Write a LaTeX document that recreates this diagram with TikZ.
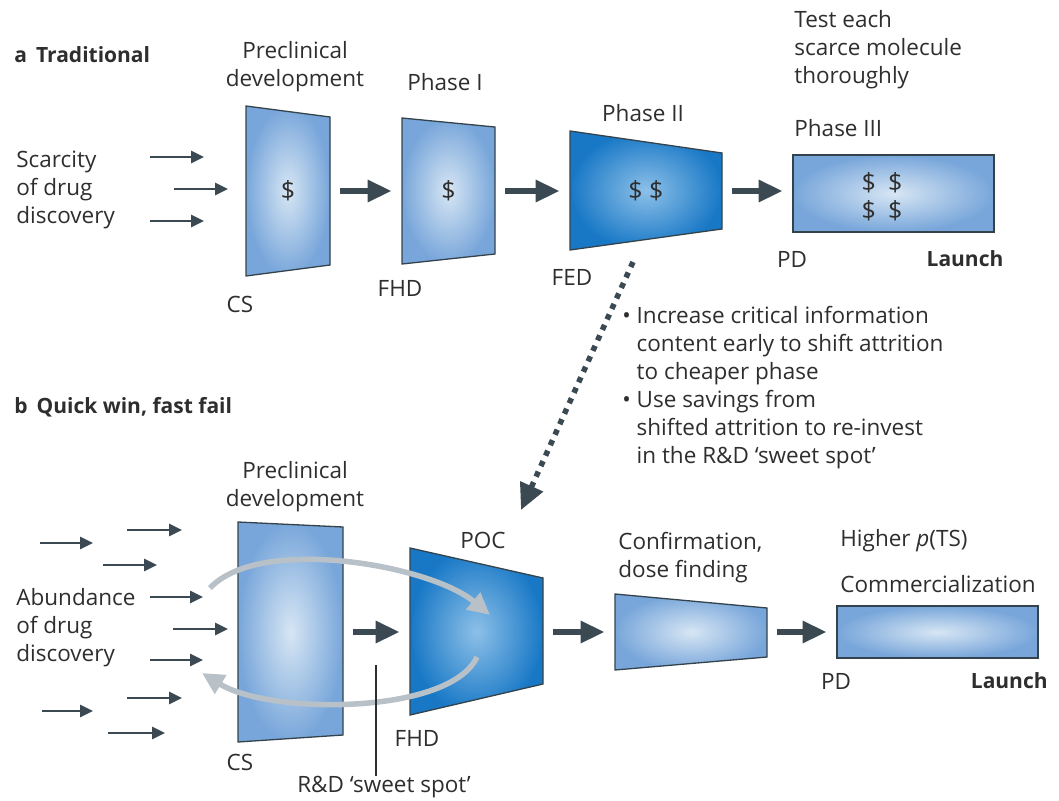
\documentclass[tikz,border=0pt]{standalone}
\usepackage{fontspec}
\setmainfont{Open Sans}
\usetikzlibrary{arrows.meta}

\definecolor{inkgray}{HTML}{2E2E2E}
\definecolor{arrowslate}{HTML}{3B4A52}
\definecolor{edgegray}{HTML}{34434B}
\definecolor{paleblue}{HTML}{D7E6F4}
\definecolor{midblue}{HTML}{78A6DA}
\definecolor{skyblue}{HTML}{8DC0E8}
\definecolor{deepblue}{HTML}{1878C6}
\definecolor{loopgray}{HTML}{B8C0C8}

\tikzset{every picture/.style={line width=0.75pt}}
\tikzset{
  stagelight/.style={draw=edgegray, line width=1.3pt, inner color=paleblue, outer color=midblue},
  stagedeep/.style={draw=edgegray, line width=1.3pt, inner color=skyblue, outer color=deepblue},
  spot/.style={inner sep=0pt, minimum height=0pt, text=inkgray, font=\fontsize{25}{28}\selectfont},
  lbl/.style={inner sep=0pt, text=inkgray, font=\fontsize{22.5}{28}\selectfont},
  heading/.style={inner sep=0pt, text=inkgray, font=\fontsize{21}{26}\selectfont\bfseries},
  bigarrow/.style={arrowslate, line width=6.5pt, -{Triangle[length=24pt,width=21pt]}, shorten <=10pt, shorten >=10pt},
  thinarrow/.style={arrowslate, line width=2.6pt, -{Triangle[length=13pt,width=12pt]}},
  dotarrow/.style={arrowslate, line width=5.5pt, dash pattern=on 5.5pt off 6pt, -{Triangle[length=26pt,width=24pt]}},
  loop/.style={loopgray, line width=5.5pt, -{Triangle[length=22pt,width=21pt]}},
  pointer/.style={inkgray, line width=1.3pt}
}

\begin{document}
\begin{tikzpicture}[x=1pt,y=1pt,yscale=-1,xscale=1]
    \useasboundingbox (0,0) rectangle (1059,800);

    % a: traditional pipeline
    \node[heading, anchor=west] (headA) at (14,55) {a\hspace{9pt}Traditional};
    \shadedraw[stagelight] (246,106) -- (330,117) -- (330,265) -- (246,276) -- cycle ;
    \shadedraw[stagelight] (402,118) -- (495,127) -- (495,254) -- (402,264) -- cycle ;
    \shadedraw[stagedeep] (570,131) -- (722,153) -- (722,229) -- (570,250) -- cycle ;
    \shadedraw[stagelight] (793,155) rectangle (994,232) ;
    \node[spot, minimum width=84] (preA) at (288,191) {\$};
    \node[spot, minimum width=93] (ph1) at (448.5,191) {\$};
    \node[spot, minimum width=152] (ph2) at (646,191) {\$ \$};
    \node[spot, minimum width=201] (ph3) at (893.5,193.5) {};
    \node[spot, align=center] (ph3cash) at (882,197) {\$\hspace{12pt}\$\\\$\hspace{12pt}\$};
    \draw[bigarrow] (preA.east) -- (ph1.west) ;
    \draw[bigarrow] (ph1.east) -- (ph2.west) ;
    \draw[bigarrow] (ph2.east) -- (ph2.east -| ph3.west) ;
    \foreach \xa/\xb/\yy in {150/204/157, 174/228/189, 150/204/221}
        \draw[thinarrow] (\xa,\yy) -- (\xb,\yy) ;

    \node[lbl, align=center] (preAlbl) at (295,67) {Preclinical\\development};
    \node[lbl] (ph1lbl) at (445,82) {Phase I};
    \node[lbl] (ph2lbl) at (643,113) {Phase II};
    \node[lbl, anchor=west, align=left] (thorough) at (794,50) {Test each\\scarce molecule\\thoroughly};
    \node[lbl, anchor=west] (ph3lbl) at (794,128) {Phase III};
    \node[lbl, anchor=west, align=left] (scarce) at (16,190) {Scarcity\\of drug\\discovery};
    \node[lbl] (csA) at (240,304) {CS};
    \node[lbl] (fhdA) at (400,288) {FHD};
    \node[lbl] (fedA) at (572,277) {FED};
    \node[lbl] (pdA) at (792,259) {PD};
    \node[heading] (launchA) at (965,259) {Launch};

    % shift from a to b
    \coordinate (shiftA) at (633,262);
    \coordinate (shiftB) at (521,510);
    \draw[dotarrow] (shiftA) -- (shiftB) ;
    \node[lbl, anchor=west, align=left] (notes) at (622,388) {%
        \textbullet\ Increase critical information\\
        \hphantom{\textbullet\ }content early to shift attrition\\
        \hphantom{\textbullet\ }to cheaper phase\\
        \textbullet\ Use savings from\\
        \hphantom{\textbullet\ }shifted attrition to re-invest\\
        \hphantom{\textbullet\ }in the R\&D `sweet spot'};

    % b: quick win, fast fail
    \node[heading, anchor=west] (headB) at (14,407) {b\hspace{9pt}Quick win, fast fail};
    \shadedraw[stagelight] (238,522) -- (343,527) -- (343,735) -- (238,742) -- cycle ;
    \shadedraw[stagedeep] (410,548) -- (543,578) -- (543,684) -- (410,715) -- cycle ;
    \shadedraw[stagelight] (615,594) -- (767,608) -- (767,657) -- (615,670) -- cycle ;
    \shadedraw[stagelight] (837,606) rectangle (1038,658) ;
    \node[spot, minimum width=105] (preB) at (290.5,632) {};
    \node[spot, minimum width=133] (poc) at (476.5,632) {};
    \node[spot, minimum width=152] (conf) at (691,632) {};
    \node[spot, minimum width=201] (comm) at (937.5,632) {};
    \draw[bigarrow] (preB.east) -- (poc.west) ;
    \draw[bigarrow] (poc.east) -- (conf.west) ;
    \draw[bigarrow] (conf.east) -- (comm.west) ;
    \foreach \xa/\xb/\yy in {40/93/543, 127/182/530, 103/157/565, 150/203/597, 173/228/629,
                             150/203/660, 127/182/698, 42/93/711, 108/165/733}
        \draw[thinarrow] (\xa,\yy) -- (\xb,\yy) ;

    % fail fast loop
    \coordinate (loopA) at (210,588);
    \coordinate (loopB) at (490,615);
    \coordinate (loopC) at (477,657);
    \coordinate (loopD) at (202,673);
    \draw[loop] (loopA) .. controls (260,535) and (430,565) .. (loopB) ;
    \draw[loop] (loopC) .. controls (450,715) and (270,715) .. (loopD) ;

    \node[lbl, align=center] (preBlbl) at (295,487) {Preclinical\\development};
    \node[lbl, anchor=west, align=left] (abundant) at (16,628) {Abundance\\of drug\\discovery};
    \node[lbl] (poclbl) at (483,540) {POC};
    \node[lbl] (csB) at (240,762) {CS};
    \node[lbl] (fhdB) at (417,738) {FHD};
    \node[lbl] (sweet) at (384,787) {R\&D `sweet spot'};
    \coordinate (sweettop) at (376,665);
    \draw[pointer] (sweettop) -- (sweettop |- sweet.north) ;
    \node[lbl, anchor=west, align=left] (conflbl) at (618,558) {Confirmation,\\dose finding};
    \node[lbl, anchor=west] (higher) at (840,541) {Higher \textit{p}(TS)};
    \node[lbl, anchor=west] (commlbl) at (840,584) {Commercialization};
    \node[lbl] (pdB) at (836,681) {PD};
    \node[heading, anchor=east] (launchB) at (1048,681) {Launch};
\end{tikzpicture}
\end{document}
